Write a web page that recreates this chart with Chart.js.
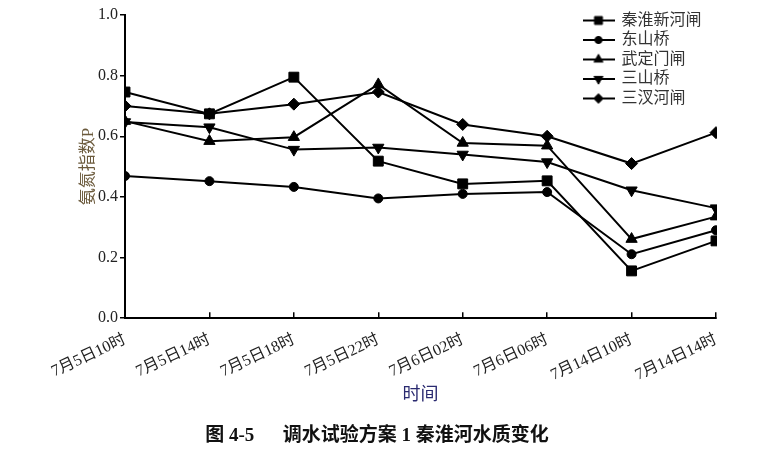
<!DOCTYPE html>
<html>
<head>
<meta charset="utf-8">
<script src="https://cdn.jsdelivr.net/npm/chart.js@4"></script>
<style>
  body { margin: 0; background: #fff; }
  #c { display: block; }
</style>
</head>
<body>
<canvas id="c" width="770" height="455"></canvas>
<script>
// time points
const labels = ['7月5日10时', '7月5日14时', '7月5日18时', '7月5日22时',
                '7月6日02时', '7月6日06时', '7月14日10时', '7月14日14时'];

// 氨氮指数P per station
const qinhuaiXinhe = [0.746, 0.674, 0.795, 0.518, 0.443, 0.453, 0.156, 0.255];
const dongshanqiao = [0.469, 0.452, 0.433, 0.395, 0.410, 0.416, 0.211, 0.290];
const wudingmen    = [0.650, 0.584, 0.597, 0.771, 0.578, 0.569, 0.261, 0.335];
const sanshanqiao  = [0.647, 0.630, 0.556, 0.563, 0.540, 0.515, 0.422, 0.363];
const sanchahe     = [0.700, 0.674, 0.706, 0.746, 0.639, 0.600, 0.510, 0.612];

const yTicks = [0.0, 0.2, 0.4, 0.6, 0.8, 1.0];

const serif = "'Liberation Serif', 'Noto Sans CJK SC', serif";

// marker per series: [style, radius, rotation]
const markers = [
    ['rect', 7, 0],
    ['circle', 4.5, 0],
    ['triangle', 6.5, 0],
    ['triangle', 6.5, 180],
    ['rectRot', 6, 0]
];

const series = [
    ['秦淮新河闸', qinhuaiXinhe],
    ['东山桥', dongshanqiao],
    ['武定门闸', wudingmen],
    ['三山桥', sanshanqiao],
    ['三汊河闸', sanchahe]
];

// legend icon: short line with the marker in the middle
const makeIcon = (m) => {
    const cv = document.createElement('canvas');
    cv.width = 32;
    cv.height = 14;
    const g = cv.getContext('2d');
    g.strokeStyle = '#000';
    g.fillStyle = '#000';
    g.lineWidth = 2;
    g.beginPath();
    g.moveTo(0, 7);
    g.lineTo(32, 7);
    g.stroke();
    g.lineWidth = 1;
    Chart.helpers.drawPoint(g, {pointStyle: m[0], radius: m[1] * 0.8, rotation: m[2], borderWidth: 1}, 16, 7);
    return cv;
};
const icons = markers.map(makeIcon);

// put the vertical legend at the top right of the plot
const legendSpot = {
    id: 'legendSpot',
    afterLayout(chart) {
        const lg = chart.legend;
        lg.left = 580;
        lg.top = 9;
        lg.right = 770;
        lg.bottom = 140;
    }
};

new Chart(document.getElementById('c').getContext('2d'), {
    type: 'line',
    data: {
        labels: labels,
        datasets: series.map((s, i) => ({
            label: s[0],
            data: s[1],
            borderColor: '#000',
            backgroundColor: '#000',
            borderWidth: 2,
            tension: 0,
            clip: {left: 1, right: 1, top: false, bottom: false},
            pointStyle: markers[i][0],
            pointRadius: markers[i][1],
            pointRotation: markers[i][2],
            pointBorderWidth: 1,
            pointBorderColor: '#000',
            pointBackgroundColor: '#000'
        }))
    },
    options: {
        responsive: false,
        animation: false,
        devicePixelRatio: 1,
        layout: {
            padding: {left: 0, right: 54, top: 15, bottom: 0}
        },
        scales: {
            x: {
                offset: false,
                afterFit: (s) => { s.height = 101; },
                border: {display: true, color: '#000', width: 2},
                grid: {drawOnChartArea: false, drawTicks: true, tickLength: -6, color: '#000', lineWidth: 1.5},
                ticks: {
                    autoSkip: false,
                    minRotation: 25,
                    maxRotation: 25,
                    padding: 18,
                    color: '#222',
                    font: {family: serif, size: 16}
                },
                title: {
                    display: true,
                    text: '时间',
                    color: '#2a2a70',
                    font: {family: serif, size: 18},
                    padding: {top: 0, bottom: 13}
                }
            },
            y: {
                min: 0,
                max: 1,
                afterFit: (s) => { s.width = 125; },
                afterBuildTicks: (s) => { s.ticks = yTicks.map(v => ({value: v})); },
                border: {display: true, color: '#000', width: 2},
                grid: {drawOnChartArea: false, drawTicks: true, tickLength: 5, color: '#000', lineWidth: 1.5},
                ticks: {
                    padding: 2,
                    color: '#222',
                    font: {family: serif, size: 16},
                    callback: (v) => Number(v).toFixed(1)
                },
                title: {
                    display: true,
                    text: '氨氮指数P',
                    color: '#6b5a3c',
                    font: {family: serif, size: 17},
                    padding: {top: 78, bottom: 0}
                }
            }
        },
        plugins: {
            legend: {
                position: 'chartArea',
                align: 'start',
                labels: {
                    usePointStyle: true,
                    pointStyleWidth: 30,
                    color: '#333',
                    padding: 3.5,
                    font: {family: serif, size: 16},
                    generateLabels: (chart) => chart.data.datasets.map((ds, i) => ({
                        text: ds.label,
                        pointStyle: icons[i],
                        fillStyle: '#000',
                        strokeStyle: '#000',
                        lineWidth: 0,
                        hidden: false,
                        datasetIndex: i,
                        fontColor: '#333'
                    }))
                }
            },
            title: {
                display: true,
                position: 'bottom',
                text: '        图 4-5      调水试验方案 1 秦淮河水质变化',
                color: '#111',
                font: {family: serif, size: 19, weight: 'bold'},
                padding: {top: 5, bottom: 8}
            },
            tooltip: {enabled: false}
        }
    },
    plugins: [legendSpot]
});
</script>
</body>
</html>
